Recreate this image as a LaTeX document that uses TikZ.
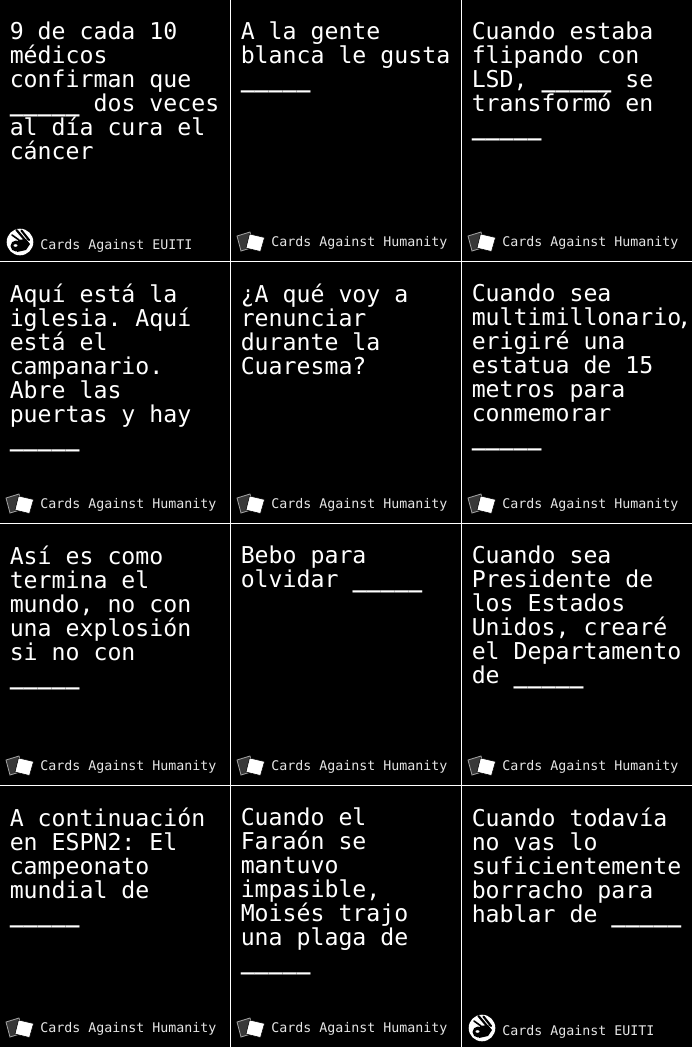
\documentclass[tikz,border=0pt]{standalone}
\usepackage{fontspec}
\newfontfamily\cardfont{DejaVu Sans Mono}
\frenchspacing
\setlength{\normallineskiplimit}{-20pt}
\setlength{\lineskiplimit}{-20pt}
\newcommand{\blank}{\textbf{\_\_\_\_\_}}
\tikzset{
  x=0.75pt, y=-0.75pt,
  cardtext/.style={anchor=north west, inner sep=0pt, text=white, align=left, font=\cardfont\fontsize{17.4pt}{18pt}\selectfont, execute at begin node={\rule{0pt}{17pt}}},
  cardfoot/.style={anchor=west, inner sep=0pt, text=white!90!black, font=\cardfont\fontsize{9.97pt}{12pt}\selectfont},
  gridline/.style={draw=white, line width=0.75pt},
  pics/deck/.style={code={
    \fill[black!78, draw=black!35, line width=0.6pt] (-12,-5) -- (1,-9) -- (5,6) -- (-8,10) -- cycle;
    \fill[white, draw=black, line width=0.4pt] (0.5,-7) -- (15.5,-3.5) -- (11.5,10.5) -- (-3,7) -- cycle;
  }},
  pics/hand/.style={code={
    \fill[white] (0,0) circle (13.3);
    \draw[black, line width=1.6pt, line cap=round] (-3.5,-12) -- (5,-2);
    \draw[black, line width=1.6pt, line cap=round] (1.5,-11.5) -- (9,-2);
    \draw[black, line width=1.2pt, line cap=round] (-8,-7) -- (-1,-2);
    \fill[black] (-4,4) circle (5.5);
    \fill[black] (-2,-2) -- (6,-3) -- (10,2) -- (6,8) -- (-3,10) -- cycle;
    \fill[white] (-4.5,3.5) ellipse (2 and 1.3);
  }}
}
\begin{document}
\begin{tikzpicture}
  \useasboundingbox (0,0) rectangle (692,1047);
  \clip (0,0) rectangle (692,1047);
  \fill[black] (0,0) rectangle (692,1047);

  % Card texts
  \node[cardtext] (card11) at (9.5,21.4) {9 de cada 10\\médicos\\confirman que\\\blank{} dos veces\\al día cura el\\cáncer};
  \node[cardtext] (card12) at (240.5,21.4) {A la gente\\blanca le gusta\\\blank};
  \node[cardtext] (card13) at (471.5,21.4) {Cuando estaba\\flipando con\\LSD, \blank{} se\\transformó en\\\blank};
  \node[cardtext] (card21) at (9.5,283.4) {Aquí está la\\iglesia. Aquí\\está el\\campanario.\\Abre las\\puertas y hay\\\blank};
  \node[cardtext] (card22) at (240.5,283.4) {¿A qué voy a\\renunciar\\durante la\\Cuaresma?};
  \node[cardtext] (card23) at (471.5,283.4) {Cuando sea\\multimillonario\kern-3pt,\\erigiré una\\estatua de 15\\metros para\\conmemorar\\\blank};
  \node[cardtext] (card31) at (9.5,545.4) {Así es como\\termina el\\mundo, no con\\una explosión\\si no con\\\blank};
  \node[cardtext] (card32) at (240.5,545.4) {Bebo para\\olvidar \blank};
  \node[cardtext] (card33) at (471.5,545.4) {Cuando sea\\Presidente de\\los Estados\\Unidos, crearé\\el Departamento\\de \blank};
  \node[cardtext] (card41) at (9.5,807.4) {A continuación\\en ESPN2: El\\campeonato\\mundial de\\\blank};
  \node[cardtext] (card42) at (240.5,807.4) {Cuando el\\Faraón se\\mantuvo\\impasible,\\Moisés trajo\\una plaga de\\\blank};
  \node[cardtext] (card43) at (471.5,807.4) {Cuando todavía\\no vas lo\\suficientemente\\borracho para\\hablar de \blank};

  % Footers with the deck logo
  \foreach \px/\py in {231/241,462/241,0/503,231/503,462/503,0/765,231/765,462/765,0/1027,231/1027} {
    \pic at (\px+18,\py) {deck};
    \node[cardfoot] (foot\px\py) at (\px+40,\py+1.5) {Cards Against Humanity};
  }

  % Footers with the round logo
  \pic at (20,242) {hand};
  \node[cardfoot] (foota) at (40,245.5) {Cards Against EUITI};
  \pic at (482,1028) {hand};
  \node[cardfoot] (footb) at (502,1031.5) {Cards Against EUITI};

  % Grid lines
  \foreach \px in {230.5,461.5} {
    \draw[gridline] (\px,0) -- (\px,1047);
  }
  \foreach \py in {261.5,523.5,785.5} {
    \draw[gridline] (0,\py) -- (692,\py);
  }
\end{tikzpicture}
\end{document}
